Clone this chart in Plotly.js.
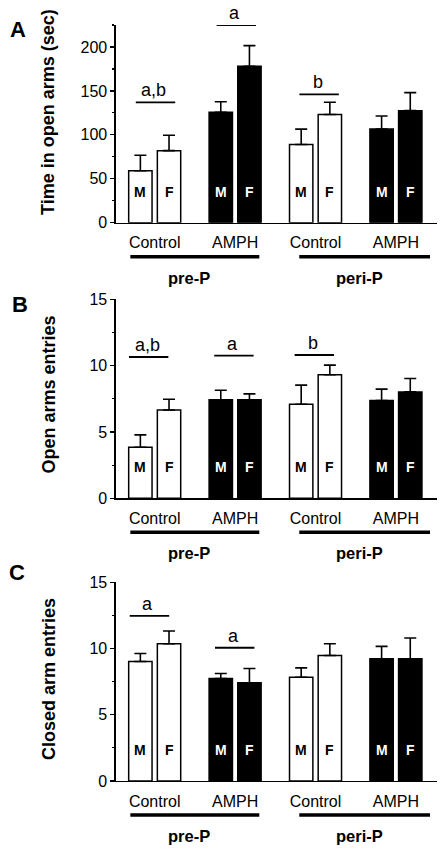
<!DOCTYPE html>
<html><head><meta charset="utf-8">
<script src="https://cdn.plot.ly/plotly-3.0.1.min.js"></script>
<style>html,body{margin:0;padding:0;background:#fff;} #chart{width:448px;height:855px;}</style>
</head><body><div id="chart"></div>
<script>
// ---------- data ----------
const categories = ["Control", "AMPH", "Control", "AMPH"];
const periods = ["pre-P", "peri-P"];
const sexes = ["M", "F"];
const treatmentColors = ["white", "black", "white", "black"];

// Panel A: Time in open arms (sec)
const timeOpenMale = [59.2, 125.7, 89.0, 106.7];
const timeOpenMaleSem = [17.5, 12.0, 17.5, 14.8];
const timeOpenFemale = [82.0, 178.0, 123.2, 127.5];
const timeOpenFemaleSem = [17.5, 23.5, 13.8, 20.5];
const timeOpenSigLabels = ["a,b", "a", "b"];
const timeOpenSigGroups = [0, 1, 2];
const timeOpenSigHeights = [137, 225, 146];

// Panel B: Open arms entries
const openEntriesMale = [3.85, 7.42, 7.09, 7.37];
const openEntriesMaleSem = [0.93, 0.73, 1.44, 0.86];
const openEntriesFemale = [6.66, 7.42, 9.31, 8.02];
const openEntriesFemaleSem = [0.81, 0.45, 0.73, 1.01];
const openEntriesSigLabels = ["a,b", "a", "b"];
const openEntriesSigGroups = [0, 1, 2];
const openEntriesSigHeights = [10.65, 10.75, 10.8];

// Panel C: Closed arm entries
const closedEntriesMale = [9.02, 7.73, 7.83, 9.22];
const closedEntriesMaleSem = [0.61, 0.38, 0.71, 0.94];
const closedEntriesFemale = [10.36, 7.42, 9.47, 9.22];
const closedEntriesFemaleSem = [0.96, 1.07, 0.89, 1.57];
const closedEntriesSigLabels = ["a", "a"];
const closedEntriesSigGroups = [0, 1];
const closedEntriesSigHeights = [12.46, 10.06];

// ---------- layout config ----------
const H = 855, W = 448;
const panels = [
  { letter: "A", title: "Time in open arms (sec)", male: timeOpenMale, maleSem: timeOpenMaleSem,
    female: timeOpenFemale, femaleSem: timeOpenFemaleSem, ymax: 225, dtick: 50,
    sigLabels: timeOpenSigLabels, sigGroups: timeOpenSigGroups, sigHeights: timeOpenSigHeights,
    sigShift: [0.01, 0.015, 0.045],
    topPx: 25, bottomPx: 222.7, letterPos: [18, 29], titleCenter: 112.5 },
  { letter: "B", title: "Open arms entries", male: openEntriesMale, maleSem: openEntriesMaleSem,
    female: openEntriesFemale, femaleSem: openEntriesFemaleSem, ymax: 15, dtick: 5,
    sigLabels: openEntriesSigLabels, sigGroups: openEntriesSigGroups, sigHeights: openEntriesSigHeights,
    sigShift: [-0.075, -0.015, -0.015],
    topPx: 299.3, bottomPx: 498.3, letterPos: [20, 305], titleCenter: 395 },
  { letter: "C", title: "Closed arm entries", male: closedEntriesMale, maleSem: closedEntriesMaleSem,
    female: closedEntriesFemale, femaleSem: closedEntriesFemaleSem, ymax: 15, dtick: 5,
    sigLabels: closedEntriesSigLabels, sigGroups: closedEntriesSigGroups, sigHeights: closedEntriesSigHeights,
    sigShift: [-0.065, -0.005],
    topPx: 582.3, bottomPx: 781, letterPos: [17, 572], titleCenter: 679.5 }
];
const periodSpans = [[-0.303, 1.301], [1.798, 3.424]];

const idx = categories.map((_, i) => i);
const zeros = categories.map(() => 0);
const py = px => 1 - px / H;
const pxx = px => px / W;

const layout = {
  width: W, height: H,
  margin: { l: 0, r: 0, t: 0, b: 0 },
  paper_bgcolor: "white", plot_bgcolor: "white",
  showlegend: false,
  barmode: "group", bargap: 0.287, bargroupgap: 0.185,
  font: { family: "Liberation Sans, Arial, sans-serif", color: "#000", size: 16 },
  shapes: [], annotations: []
};
const traces = [];
const off = (1 - layout.bargap) / 4;

panels.forEach((p, n) => {
  const xName = n === 0 ? "x" : "x" + (n + 1);
  const yName = n === 0 ? "y" : "y" + (n + 1);
  const xKey = n === 0 ? "xaxis" : "xaxis" + (n + 1);
  const yKey = n === 0 ? "yaxis" : "yaxis" + (n + 1);

  layout[xKey] = {
    domain: [pxx(115.7), pxx(436.7)], range: [-0.485, 3.507], anchor: yName,
    tickmode: "array", tickvals: idx, ticktext: categories,
    showline: true, linecolor: "#000", linewidth: 1.3,
    showgrid: false, zeroline: false, ticks: "", ticklabelstandoff: 5,
    tickfont: { size: 16 }, fixedrange: true
  };
  layout[yKey] = {
    domain: [py(p.bottomPx), py(p.topPx)], range: [0, p.ymax], anchor: xName,
    tick0: 0, dtick: p.dtick, ticks: "outside", ticklen: 4, tickwidth: 1.3, tickcolor: "#000",
    showline: true, linecolor: "#000", linewidth: 1.3,
    showgrid: false, zeroline: false, tickfont: { size: 16 },
    minor: { dtick: p.dtick / 2, ticks: "outside", ticklen: 2.5, tickwidth: 1.2, tickcolor: "#000", showgrid: false },
    fixedrange: true
  };

  [[p.male, p.maleSem], [p.female, p.femaleSem]].forEach((d, k) => {
    traces.push({
      type: "bar", x: idx, y: d[0], xaxis: xName, yaxis: yName, name: sexes[k],
      marker: { color: treatmentColors, line: { color: "#000", width: 1.5 } },
      error_y: { type: "data", symmetric: false, array: d[1], arrayminus: zeros,
                 color: "#000", thickness: 1.6, width: 6 },
      hoverinfo: "skip"
    });
  });

  // M / F labels inside bars
  idx.forEach(i => {
    sexes.forEach((s, k) => {
      layout.annotations.push({
        xref: xName, yref: yName, x: i + (k === 0 ? -off : off), y: 0,
        yanchor: "middle", yshift: 31, showarrow: false,
        text: "<b>" + s + "</b>",
        font: { size: 14, color: treatmentColors[i] === "black" ? "white" : "black" }
      });
    });
  });

  // significance lines
  p.sigGroups.forEach((g, j) => {
    const c = g + p.sigShift[j];
    layout.shapes.push({
      type: "line", xref: xName, yref: yName, x0: c - 0.245, x1: c + 0.245,
      y0: p.sigHeights[j], y1: p.sigHeights[j], line: { color: "#000", width: 1.8 }
    });
    layout.annotations.push({
      xref: xName, yref: yName, x: c - 0.02, y: p.sigHeights[j], yanchor: "bottom", yshift: 0,
      showarrow: false, text: p.sigLabels[j], font: { size: 18 }
    });
  });

  // period underlines and labels
  periodSpans.forEach((sp, k) => {
    layout.shapes.push({
      type: "line", xref: xName, yref: "paper", x0: sp[0], x1: sp[1],
      y0: py(p.bottomPx + 34), y1: py(p.bottomPx + 34), line: { color: "#000", width: 3.5 }
    });
    layout.annotations.push({
      xref: xName, yref: "paper", x: (sp[0] + sp[1]) / 2 - 0.07, y: py(p.bottomPx + 55),
      yanchor: "middle", showarrow: false, text: "<b>" + periods[k] + "</b>", font: { size: 16.5 }
    });
  });

  // y title
  layout.annotations.push({
    xref: "paper", yref: "paper", x: pxx(48.5), y: py(p.titleCenter),
    xanchor: "center", yanchor: "middle", textangle: -90, showarrow: false,
    text: "<b>" + p.title + "</b>", font: { size: 18 }
  });
  // panel letter
  layout.annotations.push({
    xref: "paper", yref: "paper", x: pxx(p.letterPos[0]), y: py(p.letterPos[1]),
    xanchor: "center", yanchor: "middle", showarrow: false,
    text: "<b>" + p.letter + "</b>", font: { size: 22 }
  });
});

Plotly.newPlot("chart", traces, layout, { staticPlot: true, displayModeBar: false });
</script>
</body></html>
